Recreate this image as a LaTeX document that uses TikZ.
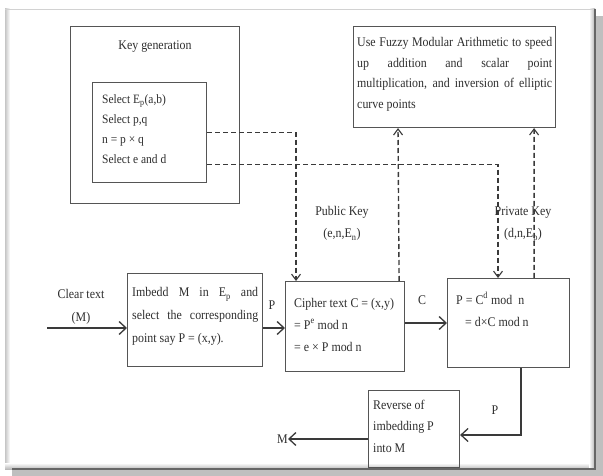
\documentclass[tikz,border=0pt]{standalone}
\usepackage{fontspec}
\setmainfont{Liberation Serif}[FakeStretch=0.9]
\usetikzlibrary{arrows.meta,calc}
\definecolor{boxc}{HTML}{555555}
\definecolor{linec}{HTML}{3A3A3A}
\definecolor{txtc}{HTML}{2E2E2E}
\begin{document}
\begin{tikzpicture}[x=1bp,y=-1bp,
  box/.style={draw=boxc,line width=1.1bp,inner sep=0,anchor=north west},
  lbl/.style={inner sep=0,text=txtc,font=\fontsize{13.3}{15}\selectfont},
  ln/.style={lbl,anchor=base west},
  small/.style={font=\fontsize{12.8}{15}\selectfont},
  flow/.style={draw=linec,line width=1.8bp,-{Straight Barb[length=7bp,width=13bp,line width=1.3bp]}},
  keyline/.style={draw=linec,line width=1.4bp,dash pattern=on 5bp off 3bp,-{Straight Barb[length=6bp,width=9bp,line width=1.1bp]}}
]
\useasboundingbox (0,0) rectangle (603,476);
% frame with shadow and bevel
\fill[gray!50] (12,16) rectangle (603,476);
\fill[white] (5,9) rectangle (595,469);
\shade[left color=gray!45,right color=white] (5,9) rectangle (10,469);
\shade[top color=white,bottom color=gray!55] (5,463) rectangle (595,469);
\shade[left color=white,right color=gray!60] (589,9) rectangle (595,469);
\draw[gray!35,line width=0.8bp] (5,9) -- (595,9);
\draw[gray!80!black,line width=1.5bp] (595,9) -- (595,469) -- (12,469);

% boxes
\node[box,minimum width=169bp,minimum height=177bp] (keygen) at (70,26) {};
\node[box,minimum width=114bp,minimum height=100bp] (inner) at (92,82) {};
\node[box,minimum width=202bp,minimum height=101bp] (fuzzy) at (353,26) {};
\node[box,minimum width=135bp,minimum height=93bp] (imbed) at (127,273) {};
\node[box,minimum width=119bp,minimum height=90bp] (cipher) at (285,281) {};
\node[box,minimum width=122bp,minimum height=89bp] (priv) at (447,278) {};
\node[box,minimum width=91bp,minimum height=77bp] (rev) at (368,390) {};

% texts
\node[lbl,anchor=base] (kgt) at (155,50) {Key generation};
\node[ln,small] (kg1) at (102,104) {Select E\textsubscript{p}(a,b)};
\node[ln,small] (kg2) at (102,124) {Select p,q};
\node[ln,small] (kg3) at (102,144) {n = p × q};
\node[ln,small] (kg4) at (102,164) {Select e and d};

\node[ln] (fz1) at (357,47) {\makebox[195bp][s]{Use Fuzzy Modular Arithmetic to speed}};
\node[ln] (fz2) at (357,67.5) {\makebox[195bp][s]{up addition and scalar point}};
\node[ln] (fz3) at (357,88) {\makebox[195bp][s]{multiplication, and inversion of elliptic}};
\node[ln] (fz4) at (357,108.5) {curve points};

\node[ln] (im1) at (132,297) {\makebox[126bp][s]{Imbedd M in E\textsubscript{p} and}};
\node[ln] (im2) at (132,319.5) {\makebox[126bp][s]{select the corresponding}};
\node[ln] (im3) at (132,342) {point say P = (x,y).};

\node[ln] (ci1) at (294,307) {Cipher text C = (x,y)};
\node[ln] (ci2) at (294,329) {= P\textsuperscript{e} mod n};
\node[ln] (ci3) at (294,351) {= e × P mod n};

\node[ln] (pr1) at (456,304) {P = C\textsuperscript{d} mod\ \ n};
\node[ln] (pr2) at (465,326) {= d×C mod n};

\node[ln] (rv1) at (373,409) {Reverse of};
\node[ln] (rv2) at (373,430.5) {imbedding P};
\node[ln] (rv3) at (373,452) {into M};

\node[lbl,anchor=base] (pk1) at (342,216) {Public Key};
\node[lbl,anchor=base] (pk2) at (342,238) {(e,n,E\textsubscript{n})};
\node[lbl,anchor=base] (sk1) at (523,216) {Private Key};
\node[lbl,anchor=base] (sk2) at (523,238) {(d,n,E\textsubscript{p})};
\node[lbl,anchor=base] (clr1) at (81,299) {Clear text};
\node[lbl,anchor=base] (clr2) at (81,321) {(M)};
\node[lbl,anchor=base] (lp1) at (272,309) {P};
\node[lbl,anchor=base] (lc) at (422,304) {C};
\node[lbl,anchor=base] (lp2) at (495,414) {P};
\node[lbl,anchor=base east] (mout) at (288,443) {M};
\coordinate (cin) at (47,328);
\coordinate (imout) at ([yshift=-55bp]imbed.north east);
\coordinate (ciout) at ([yshift=-42bp]cipher.north east);
\coordinate (rvin) at ([yshift=-45bp]rev.north east);
\coordinate (rvout) at ([yshift=-49bp]rev.north west);

% dashed key distribution
\draw[keyline] (inner.east) -| ([xshift=11bp]cipher.north west);
\draw[keyline] ([yshift=-32bp]inner.east) -| ([xshift=51bp]priv.north west);
\draw[keyline] ([xshift=-6bp]cipher.north east) -- ([xshift=45bp]fuzzy.south west);
\draw[keyline] ([xshift=-36bp]priv.north east) -- ([xshift=-22bp]fuzzy.south east);

% solid flow
\draw[flow] (cin) -- (cin -| imbed.west);
\draw[flow] (imout) -- (imout -| cipher.west);
\draw[flow] (ciout) -- (ciout -| priv.west);
\draw[flow] ([xshift=-49bp]priv.south east) |- (rvin);
\draw[flow] (rvout) -- (rvout -| mout.east);
\end{tikzpicture}
\end{document}
